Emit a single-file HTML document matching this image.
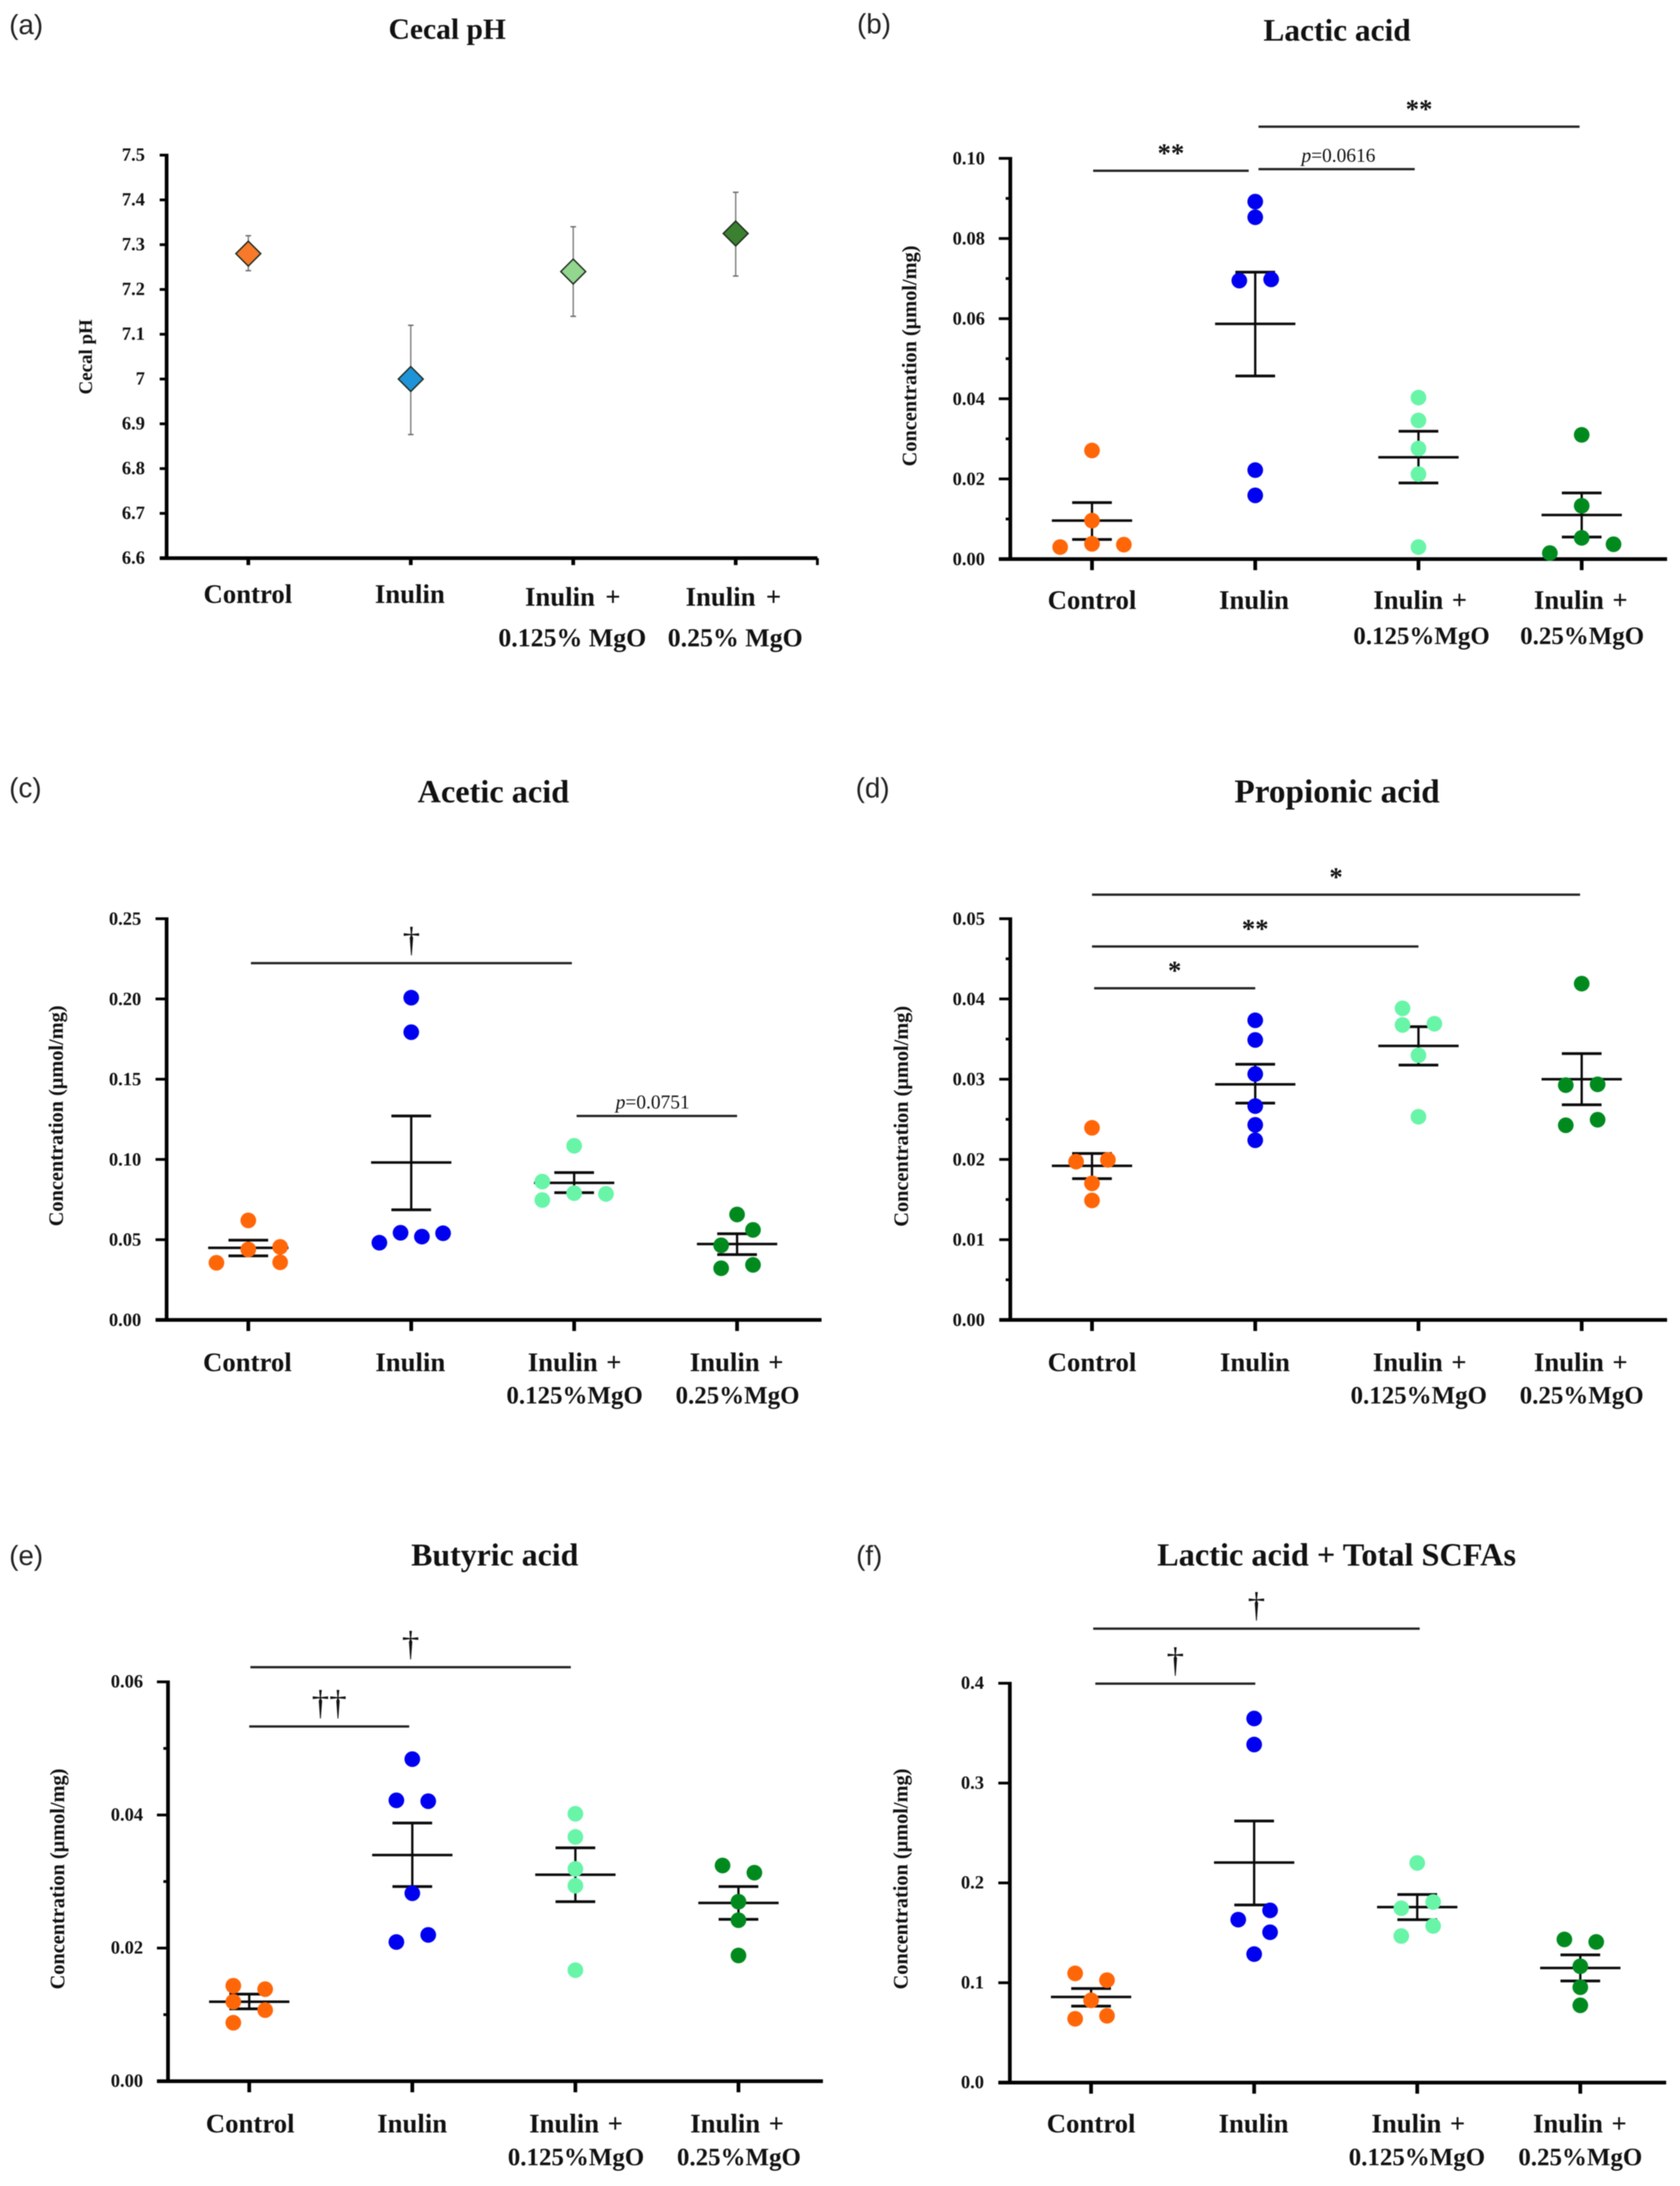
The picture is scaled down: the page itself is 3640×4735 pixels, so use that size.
<!DOCTYPE html>
<html lang="en">
<head>
<meta charset="utf-8">
<title>Cecal pH and organic acids by diet group</title>
<style>
html,body{margin:0;padding:0;background:#fff;width:3640px;height:4735px;overflow:hidden}
svg{display:block;filter:blur(1.1px)}
text{font-family:"Liberation Serif",serif;font-weight:bold;fill:#111}
.panel-letter{font-family:"Liberation Sans",sans-serif;font-weight:normal;font-size:60px;fill:#222}
.title{font-size:70px;text-anchor:middle}
.axis-title{font-size:44px;text-anchor:middle}
.cat{font-size:58px;text-anchor:middle;word-spacing:4px}
.cat2{font-size:54px;text-anchor:middle}
.tick{font-size:40px;text-anchor:end}
</style>
</head>
<body>
<svg id="figure" width="3640" height="4735" viewBox="0 0 3640 4735" xmlns="http://www.w3.org/2000/svg">
<rect width="3640" height="4735" fill="#fff"/>

<g id="panel-a">
<text class="panel-letter" x="20" y="74">(a)</text>
<text class="title" style="font-size:64px" x="969" y="84">Cecal pH</text>
<text class="axis-title" style="font-size:41px" transform="translate(199,773) rotate(-90)">Cecal pH</text>
<text class="cat" x="537" y="1306">Control</text>
<text class="cat" x="888" y="1306">Inulin</text>
<text class="cat" style="word-spacing:8px" x="1241" y="1312">Inulin +</text>
<text class="cat2" style="font-size:56px" x="1240" y="1400">0.125% MgO</text>
<text class="cat" style="word-spacing:8px" x="1589" y="1312">Inulin +</text>
<text class="cat2" style="font-size:56px" x="1593" y="1400">0.25% MgO</text>
</g>

<g id="panel-b">
<text class="panel-letter" x="1857" y="72">(b)</text>
<text class="title" style="font-size:68px" x="2897" y="88">Lactic acid</text>
<text class="axis-title" transform="translate(1985,771) rotate(-90)">Concentration (μmol/mg)</text>
<text class="cat" x="2366" y="1319">Control</text>
<text class="cat" x="2717" y="1319">Inulin</text>
<text class="cat" x="3077" y="1319">Inulin +</text>
<text class="cat2" x="3080" y="1395">0.125%MgO</text>
<text class="cat" x="3425" y="1319">Inulin +</text>
<text class="cat2" x="3428" y="1395">0.25%MgO</text>
</g>

<g id="panel-c">
<text class="panel-letter" x="20" y="1727">(c)</text>
<text class="title" style="font-size:70px" x="1069" y="1738">Acetic acid</text>
<text class="axis-title" transform="translate(136,2417) rotate(-90)">Concentration (μmol/mg)</text>
<text class="cat" x="536" y="2970">Control</text>
<text class="cat" x="889" y="2970">Inulin</text>
<text class="cat" x="1245" y="2970">Inulin +</text>
<text class="cat2" x="1245" y="3040">0.125%MgO</text>
<text class="cat" x="1596" y="2970">Inulin +</text>
<text class="cat2" x="1598" y="3040">0.25%MgO</text>
</g>

<g id="panel-d">
<text class="panel-letter" x="1854" y="1727">(d)</text>
<text class="title" style="font-size:72px" x="2897" y="1738">Propionic acid</text>
<text class="axis-title" transform="translate(1967,2418) rotate(-90)">Concentration (μmol/mg)</text>
<text class="cat" x="2366" y="2970">Control</text>
<text class="cat" x="2719" y="2970">Inulin</text>
<text class="cat" x="3076" y="2970">Inulin +</text>
<text class="cat2" x="3074" y="3040">0.125%MgO</text>
<text class="cat" x="3425" y="2970">Inulin +</text>
<text class="cat2" x="3427" y="3040">0.25%MgO</text>
</g>

<g id="panel-e">
<text class="panel-letter" x="20" y="3390">(e)</text>
<text class="title" style="font-size:69px" x="1072" y="3391">Butyric acid</text>
<text class="axis-title" transform="translate(139,4070) rotate(-90)">Concentration (μmol/mg)</text>
<text class="cat" x="542" y="4619">Control</text>
<text class="cat" x="893" y="4619">Inulin</text>
<text class="cat" x="1248" y="4619">Inulin +</text>
<text class="cat2" x="1248" y="4690">0.125%MgO</text>
<text class="cat" x="1597" y="4619">Inulin +</text>
<text class="cat2" x="1601" y="4690">0.25%MgO</text>
</g>

<g id="panel-f">
<text class="panel-letter" x="1855" y="3390">(f)</text>
<text class="title" x="2896" y="3391">Lactic acid + Total SCFAs</text>
<text class="axis-title" transform="translate(1966,4070) rotate(-90)">Concentration (μmol/mg)</text>
<text class="cat" x="2364" y="4619">Control</text>
<text class="cat" x="2716" y="4619">Inulin</text>
<text class="cat" x="3073" y="4619">Inulin +</text>
<text class="cat2" x="3070" y="4690">0.125%MgO</text>
<text class="cat" x="3423" y="4619">Inulin +</text>
<text class="cat2" x="3424" y="4690">0.25%MgO</text>
</g>
</svg>

<script>
/* ---------- panel (a) Cecal pH ---------- */
const phTicks = ['6.6','6.7','6.8','6.9','7','7.1','7.2','7.3','7.4','7.5'];
const phMeans = [7.28, 7.0, 7.24, 7.325];
const phUpper = [7.32, 7.12, 7.34, 7.417];
const phLower = [7.242, 6.876, 7.14, 7.23];

/* ---------- panel (b) Lactic acid ---------- */
const lacticTicks = ['0.00','0.02','0.04','0.06','0.08','0.10'];
const lacticPoints = [
  [0.0030, 0.0271, 0.0096, 0.0038, 0.0036],
  [0.0892, 0.0853, 0.0695, 0.0698, 0.0222, 0.0159],
  [0.0403, 0.0346, 0.0276, 0.0212, 0.0030],
  [0.0310, 0.0133, 0.0053, 0.0037, 0.0015]
];
const lacticSlots = [
  [-2, 0, 0, 0, 2],
  [0, 0, -1, 1, 0, 0],
  [0, 0, 0, 0, 0],
  [0, 0, 0, 2, -2]
];
const lacticMeans = [0.0096, 0.0587, 0.0254, 0.0110];
const lacticUpper = [0.0141, 0.0716, 0.0319, 0.0165];
const lacticLower = [0.0049, 0.0457, 0.0190, 0.0055];
const lacticBracketFrom = [0.007, 1.02, 1.02];
const lacticBracketTo = [0.96, 2.987, 1.977];
const lacticBracketValue = [0.0969, 0.1079, 0.0973];
const lacticBracketLabel = ['**', '**', 'p=0.0616'];

/* ---------- panel (c) Acetic acid ---------- */
const aceticTicks = ['0.00','0.05','0.10','0.15','0.20','0.25'];
const aceticPoints = [
  [0.0620, 0.0356, 0.0439, 0.0455, 0.0359],
  [0.2008, 0.1793, 0.0481, 0.0543, 0.0519, 0.0540],
  [0.1085, 0.0862, 0.0790, 0.0785, 0.0747],
  [0.0657, 0.0561, 0.0465, 0.0343, 0.0322]
];
const aceticSlots = [
  [0, -2, 0, 2, 2],
  [0, 0, -2, -0.67, 0.67, 2],
  [0, -2, 0, 2, -2],
  [0, 1, -1, 1, -1]
];
const aceticMeans = [0.0449, 0.0981, 0.0854, 0.0473];
const aceticUpper = [0.0497, 0.1271, 0.0918, 0.0537];
const aceticLower = [0.0399, 0.0686, 0.0793, 0.0407];
const aceticBracketFrom = [0.016, 2.015];
const aceticBracketTo = [1.986, 3.0];
const aceticBracketValue = [0.2223, 0.1271];
const aceticBracketLabel = ['†', 'p=0.0751'];

/* ---------- panel (d) Propionic acid ---------- */
const propionicTicks = ['0.00','0.01','0.02','0.03','0.04','0.05'];
const propionicPoints = [
  [0.02394, 0.01973, 0.01995, 0.01702, 0.01489],
  [0.03734, 0.03489, 0.03064, 0.02665, 0.02431, 0.02239],
  [0.03883, 0.03676, 0.03691, 0.03298, 0.02532],
  [0.04191, 0.02926, 0.02936, 0.02495, 0.02426]
];
const propionicSlots = [
  [0, -1, 1, 0, 0],
  [0, 0, 0, 0, 0, 0],
  [-1, -1, 1, 0, 0],
  [0, -1, 1, 1, -1]
];
const propionicMeans = [0.0192, 0.02936, 0.03415, 0.0300];
const propionicUpper = [0.02074, 0.03186, 0.03654, 0.03319];
const propionicLower = [0.01761, 0.02702, 0.03176, 0.02681];
const propionicBracketFrom = [0, 0, 0.013];
const propionicBracketTo = [2.99, 2.0, 1.0];
const propionicBracketValue = [0.0530, 0.04654, 0.04133];
const propionicBracketLabel = ['*', '**', '*'];

/* ---------- panel (e) Butyric acid ---------- */
const butyricTicks = ['0.00','0.02','0.04','0.06'];
const butyricPoints = [
  [0.01434, 0.01383, 0.01194, 0.01068, 0.00878],
  [0.04839, 0.0422, 0.04207, 0.02824, 0.02198, 0.02091],
  [0.04018, 0.0367, 0.0319, 0.02937, 0.01668],
  [0.03241, 0.03133, 0.02697, 0.02419, 0.01889]
];
const butyricSlots = [
  [-1, 1, -1, 1, -1],
  [0, -1, 1, 0, 1, -1],
  [0, 0, 0, 0, 0],
  [-1, 1, 0, 0, 0]
];
const butyricMeans = [0.01194, 0.03398, 0.03102, 0.02678];
const butyricUpper = [0.01308, 0.03879, 0.03506, 0.02925];
const butyricLower = [0.01087, 0.02925, 0.02697, 0.02432];
const butyricBracketFrom = [0.007, 0];
const butyricBracketTo = [1.972, 0.981];
const butyricBracketValue = [0.0622, 0.0533];
const butyricBracketLabel = ['†', '††'];

/* ---------- panel (f) Lactic acid + Total SCFAs ---------- */
const totalTicks = ['0.0','0.1','0.2','0.3','0.4'];
const totalPoints = [
  [0.1094, 0.1026, 0.0824, 0.0669, 0.0639],
  [0.3647, 0.3386, 0.1725, 0.1632, 0.1506, 0.1287],
  [0.2200, 0.1809, 0.1746, 0.1569, 0.1468],
  [0.1434, 0.1409, 0.1165, 0.0955, 0.0774]
];
const totalSlots = [
  [-1, 1, 0, 1, -1],
  [0, 0, 1, -1, 1, 0],
  [0, 1, -1, 1, -1],
  [-1, 1, 0, 0, 0]
];
const totalMeans = [0.0858, 0.2204, 0.1758, 0.1148];
const totalUpper = [0.0942, 0.2620, 0.1884, 0.1279];
const totalLower = [0.0766, 0.1779, 0.1632, 0.1018];
const totalBracketFrom = [0.013, 0.026];
const totalBracketTo = [2.015, 1.007];
const totalBracketValue = [0.4547, 0.3996];
const totalBracketLabel = ['†', '†'];

/* ---------- drawing ---------- */
const NS = 'http://www.w3.org/2000/svg';
const dotColors = ['#ff6608', '#0000f0', '#68f5a8', '#008a1e'];
const diamondColors = ['#f8792a', '#1f93d8', '#92d68f', '#3b8030'];

function make(parent, tag, attrs) {
  const el = document.createElementNS(NS, tag);
  for (const k in attrs) el.setAttribute(k, attrs[k]);
  parent.appendChild(el);
  return el;
}
function line(parent, x1, y1, x2, y2, w, color) {
  return make(parent, 'line', {x1: x1, y1: y1, x2: x2, y2: y2, stroke: color || '#000', 'stroke-width': w});
}
function linearAxis(v0, v1, p0, p1) {
  return function (v) { return p0 + (v - v0) * (p1 - p0) / (v1 - v0); };
}

function drawAxes(g, cfg, ticks, x, y) {
  const yAxis = line(g, cfg.left, cfg.top - 3, cfg.left, cfg.bottom + 3, cfg.axisW);
  
  
  const xAxis = line(g, cfg.left - cfg.tickLen, cfg.bottom, cfg.right, cfg.bottom, cfg.axisW);
  
  
  ticks.forEach(function (label) {
    const py = y(Number(label));
    const t = line(g, cfg.left - cfg.tickLen, py, cfg.left, py, cfg.tickW);
    
    
    const txt = make(g, 'text', {class: 'tick', x: cfg.labelRight, y: py + cfg.labelDy});
    txt.textContent = label;
    
    
  });
  if (cfg.minor) {
    for (let i = 0; i < ticks.length - 1; i++) {
      const py = y((Number(ticks[i]) + Number(ticks[i + 1])) / 2);
      const m = line(g, cfg.left - cfg.minorLen, py, cfg.left, py, cfg.tickW);
      
      
    }
  }
  for (let i = 0; i < 4; i++) {
    const t = line(g, x(i), cfg.bottom, x(i), cfg.bottom + cfg.xTickLen, cfg.axisW);
    
    
  }
}

function drawBrackets(g, cfg, x, y, from, to, values, labels) {
  values.forEach(function (v, i) {
    const py = y(v);
    const x1 = x(from[i]);
    const x2 = x(to[i]);
    const b = line(g, x1, py, x2, py, 5, '#222');
    
    
    const label = labels[i];
    const cx = (x1 + x2) / 2;
    if (label.charAt(0) === 'p') {
      const t = make(g, 'text', {x: cx - (label === 'p=0.0751' ? 9 : -4), y: py - 16, 'text-anchor': 'middle', 'font-size': 42});
      t.style.fontWeight = 'normal';
      const p = make(t, 'tspan', {'font-style': 'italic'});
      p.textContent = 'p';
      const rest = make(t, 'tspan', {});
      rest.textContent = label.slice(1);
      
      
    } else if (label.charAt(0) === '*') {
      const t = make(g, 'text', {x: cx, y: py - 19, 'text-anchor': 'middle', 'font-size': 58});
      t.textContent = label;
      
      
    } else {
      const t = make(g, 'text', {x: cx, y: py - 26, 'text-anchor': 'middle', 'font-size': 76});
      t.style.fontWeight = 'normal';
      t.textContent = label;
      
      
    }
  });
}

function drawSwarm(id, cfg, ticks, points, slots, means, upper, lower, bFrom, bTo, bValue, bLabel) {
  const g = document.getElementById(id);
  const v0 = Number(ticks[0]);
  const v1 = Number(ticks[ticks.length - 1]);
  const y = linearAxis(v0, v1, cfg.bottom, cfg.top);
  const x = linearAxis(0, 3, cfg.x0, cfg.x3);
  drawAxes(g, cfg, ticks, x, y);
  drawBrackets(g, cfg, x, y, bFrom, bTo, bValue, bLabel);
  means.forEach(function (m, c) {
    const cx = x(c);
    const stem = line(g, cx, y(upper[c]), cx, y(lower[c]), 5, '#0a0a0a');
    
    
    const capU = line(g, cx - 43, y(upper[c]), cx + 43, y(upper[c]), 6, '#0a0a0a');
    
    
    const capL = line(g, cx - 43, y(lower[c]), cx + 43, y(lower[c]), 6, '#0a0a0a');
    
    
    const mean = line(g, cx - 87, y(m), cx + 87, y(m), 5.5, '#0a0a0a');
    
    
  });
  points.forEach(function (series, c) {
    series.forEach(function (v, i) {
      const dot = make(g, 'circle', {cx: x(c) + slots[c][i] * 34.5, cy: y(v), r: 17, fill: dotColors[c]});
      
      
    });
  });
}

function drawPh() {
  const cfg = {left: 361, right: 1771, top: 336, bottom: 1209, x0: 538, x3: 1594, axisW: 8, tickW: 6, tickLen: 15, xTickLen: 15, labelRight: 314, labelDy: 12, minor: false};
  const g = document.getElementById('panel-a');
  const y = linearAxis(Number(phTicks[0]), Number(phTicks[phTicks.length - 1]), cfg.bottom, cfg.top);
  const x = linearAxis(0, 3, cfg.x0, cfg.x3);
  drawAxes(g, cfg, phTicks, x, y);
  const endTick = line(g, cfg.right, cfg.bottom, cfg.right, cfg.bottom + cfg.xTickLen, 6);
  
  
  phMeans.forEach(function (m, c) {
    const cx = x(c);
    const bar = line(g, cx, y(phUpper[c]), cx, y(phLower[c]), 3, '#7f7f7f');
    
    
    const capU = line(g, cx - 6, y(phUpper[c]), cx + 6, y(phUpper[c]), 3, '#6a6a6a');
    
    
    const capL = line(g, cx - 6, y(phLower[c]), cx + 6, y(phLower[c]), 3, '#6a6a6a');
    
    
    const my = y(m);
    const pts = [[cx, my - 27], [cx + 27, my], [cx, my + 27], [cx - 27, my]].map(function (p) { return p.join(','); }).join(' ');
    const d = make(g, 'polygon', {points: pts, fill: diamondColors[c], stroke: '#1c2a1c', 'stroke-width': 3});
    
    
  });
}

drawPh();
drawSwarm('panel-b',
  {left: 2189, right: 3612, top: 343, bottom: 1211, x0: 2366, x3: 3427, axisW: 8, tickW: 6, tickLen: 25, minorLen: 10, xTickLen: 24, labelRight: 2134, labelDy: 13, minor: true},
  lacticTicks, lacticPoints, lacticSlots, lacticMeans, lacticUpper, lacticLower,
  lacticBracketFrom, lacticBracketTo, lacticBracketValue, lacticBracketLabel);
drawSwarm('panel-c',
  {left: 361, right: 1780, top: 1990, bottom: 2859, x0: 538, x3: 1597, axisW: 8, tickW: 6, tickLen: 24, minorLen: 10, xTickLen: 24, labelRight: 306, labelDy: 13, minor: false},
  aceticTicks, aceticPoints, aceticSlots, aceticMeans, aceticUpper, aceticLower,
  aceticBracketFrom, aceticBracketTo, aceticBracketValue, aceticBracketLabel);
drawSwarm('panel-d',
  {left: 2189, right: 3612, top: 1990, bottom: 2859, x0: 2366, x3: 3427, axisW: 8, tickW: 6, tickLen: 24, minorLen: 10, xTickLen: 24, labelRight: 2134, labelDy: 13, minor: true},
  propionicTicks, propionicPoints, propionicSlots, propionicMeans, propionicUpper, propionicLower,
  propionicBracketFrom, propionicBracketTo, propionicBracketValue, propionicBracketLabel);
drawSwarm('panel-e',
  {left: 364, right: 1783, top: 3643, bottom: 4508, x0: 540, x3: 1600, axisW: 8, tickW: 6, tickLen: 24, minorLen: 10, xTickLen: 24, labelRight: 310, labelDy: 12, minor: true},
  butyricTicks, butyricPoints, butyricSlots, butyricMeans, butyricUpper, butyricLower,
  butyricBracketFrom, butyricBracketTo, butyricBracketValue, butyricBracketLabel);
drawSwarm('panel-f',
  {left: 2188, right: 3610, top: 3646, bottom: 4511, x0: 2364, x3: 3424, axisW: 8, tickW: 6, tickLen: 25, minorLen: 10, xTickLen: 24, labelRight: 2132, labelDy: 12, minor: false},
  totalTicks, totalPoints, totalSlots, totalMeans, totalUpper, totalLower,
  totalBracketFrom, totalBracketTo, totalBracketValue, totalBracketLabel);
</script>
</body>
</html>
